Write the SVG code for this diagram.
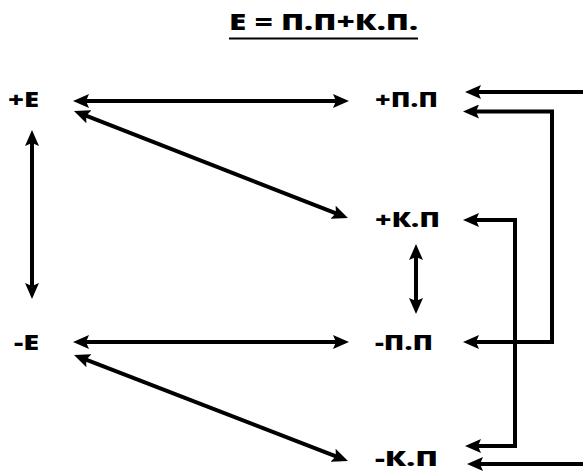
<svg xmlns="http://www.w3.org/2000/svg" width="583" height="474" viewBox="0 0 583 474">
<style>
.t{font-family:"Open Sans","DejaVu Sans",sans-serif;font-weight:800;font-size:21px;fill:#000}
.title{font-size:23px}
.c{fill:none;stroke:#000;stroke-width:4;stroke-linejoin:miter}
.b{marker-start:url(#ah);marker-end:url(#ah)}
.e{marker-end:url(#ah)}
</style>
<defs>
<marker id="ah" markerUnits="userSpaceOnUse" markerWidth="16" markerHeight="14" viewBox="0 0 16 14" refX="8" refY="7" orient="auto-start-reverse">
<path d="M0,0 L16,7 L0,14 L3,7 z" fill="#000"/>
</marker>
</defs>
<rect width="583" height="474" fill="#fff"/>
<g id="title">
<text class="t title" x="229" y="30" textLength="189" lengthAdjust="spacingAndGlyphs">E = П.П+К.П.</text>
<line x1="229" y1="38.5" x2="418" y2="38.5" stroke="#000" stroke-width="2"/>
</g>
<g id="node-plusE"><text class="t" x="8" y="107" textLength="31" lengthAdjust="spacingAndGlyphs">+E</text></g>
<g id="node-minusE"><text class="t" x="14" y="350" textLength="25" lengthAdjust="spacingAndGlyphs">-E</text></g>
<g id="node-plusPP"><text class="t" x="375" y="107" textLength="63" lengthAdjust="spacingAndGlyphs">+П.П</text></g>
<g id="node-plusKP"><text class="t" x="375" y="227" textLength="65" lengthAdjust="spacingAndGlyphs">+К.П</text></g>
<g id="node-minusPP"><text class="t" x="375" y="350" textLength="58" lengthAdjust="spacingAndGlyphs">-П.П</text></g>
<g id="node-minusKP"><text class="t" x="375" y="466" textLength="63" lengthAdjust="spacingAndGlyphs">-К.П</text></g>
<g id="connectors">
<path class="c b" d="M81,101 H341"/>
<path class="c b" d="M81,342 H341"/>
<path class="c b" d="M32,138 V291"/>
<path class="c b" d="M416,252 V306"/>
<path class="c b" d="M81.45,113.91 L340.55,215.09"/>
<path class="c b" d="M81.46,357.89 L340.54,458.11"/>
<path class="c e" d="M583,92 H473"/>
<path class="c e" d="M583,464 H475"/>
<path class="c b" d="M471,111.5 H552 V342 H471"/>
<path class="c b" d="M471,220 H515 V446 H473"/>
</g>
</svg>
